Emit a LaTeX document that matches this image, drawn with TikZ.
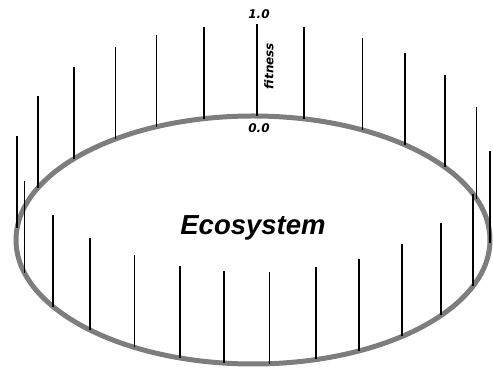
\documentclass[tikz,border=0pt]{standalone}
\usepackage{fontspec}
\usepackage{tikz}
\usetikzlibrary{calc}
\newfontfamily\ecofont{Liberation Sans}
\newfontfamily\axisfont{DejaVu Sans}
\definecolor{ringGray}{RGB}{125,125,125}
\tikzset{
  fitbar/.style={black,line width=1.7pt},
  axislabel/.style={font=\axisfont\bfseries\itshape\fontsize{12}{14}\selectfont,inner sep=0pt}
}

\begin{document}
\begin{tikzpicture}[x=1pt,y=1pt]
    \useasboundingbox (0,0) rectangle (493,369);

    % ─── Anel do ecossistema ──────────────────────────────
    \coordinate (c) at (253,129);
    \draw[ringGray,line width=5pt] (c) ellipse [x radius=237,y radius=124];

    % ─── Barras de fitness (uma por individuo) ────────────
    \foreach \a in {-1.5,19.5,36,50,62.5,77.5,89,102,114,125.5,139,155,174.5,
                    195.5,212.5,226.5,240,252,263,274,285.5,296.5,309,322.5,338}{
      \draw[fitbar] ($(c)+(\a:237 and 124)$) -- ++(0,92);
    }

    % ─── Escala ───────────────────────────────────────────
    \node[axislabel] (hi)  at (259,355){1.0};
    \node[axislabel] (lo)  at (259,241){0.0};
    \node[axislabel,rotate=90] (fit) at (269,303){fitness};

    % Rotulo central
    \node[font=\ecofont\bfseries\itshape\fontsize{27.5}{31}\selectfont,anchor=base]
      (eco) at (253,134){Ecosystem};

\end{tikzpicture}
\end{document}
